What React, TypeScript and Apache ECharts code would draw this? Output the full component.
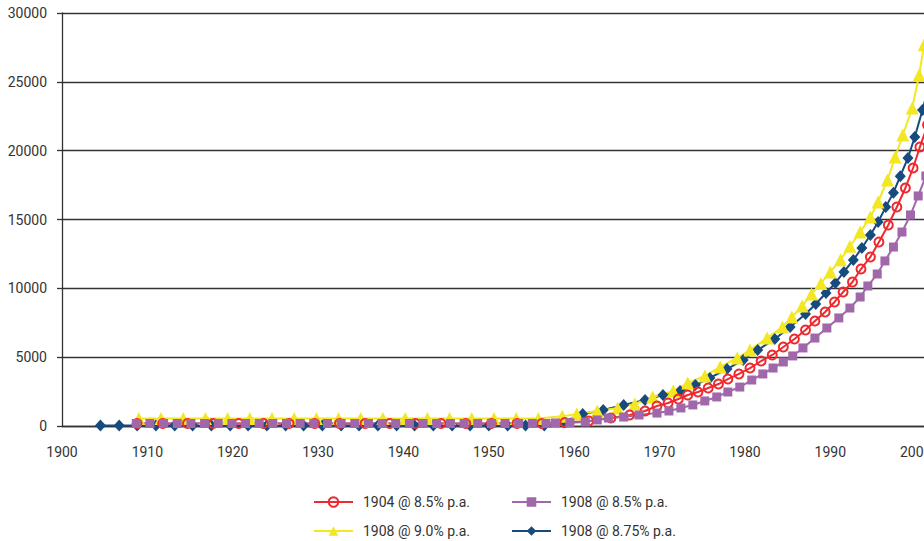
import React, { useEffect, useRef } from "react";
import * as echarts from "echarts";

const seriesNames = ["1904 @ 8.5% p.a.", "1908 @ 8.5% p.a.", "1908 @ 9.0% p.a.", "1908 @ 8.75% p.a."];

const yTicks = [0, 5000, 10000, 15000, 20000, 25000, 30000];
const xTicks = [1900, 1910, 1920, 1930, 1940, 1950, 1960, 1970, 1980, 1990, 2000];

// 1904 @ 8.5% p.a. (red circles)
const redYears = [1908.8, 1911.8, 1914.7, 1917.7, 1920.7, 1923.6, 1926.6, 1929.6, 1932.5, 1935.5, 1938.4, 1941.4, 1944.4, 1947.3, 1950.3, 1953.3, 1956.2,
  1958.9, 1961.7, 1964.3, 1966.5, 1968.3, 1969.7, 1971.0, 1972.2, 1973.3, 1974.5, 1975.7, 1976.9, 1978.0, 1979.3, 1980.6, 1981.9, 1983.2, 1984.5,
  1985.8, 1987.1, 1988.2, 1989.4, 1990.5, 1991.5, 1992.6, 1993.6, 1994.7, 1995.7, 1996.8, 1997.8, 1998.8, 1999.7, 2000.5, 2001.4];
const redValues = [180, 180, 180, 180, 180, 180, 180, 180, 180, 180, 180, 180, 180, 180, 180, 180, 180,
  250, 360, 580, 800, 1090, 1450, 1670, 1960, 2250, 2470, 2760, 3050, 3410, 3780, 4210, 4720, 5160, 5740,
  6320, 6970, 7630, 8280, 9010, 9730, 10460, 11400, 12280, 13370, 14600, 15910, 17290, 18740, 20270, 21860];

// 1908 @ 8.5% p.a. (purple squares)
const purpleYears = [1908.7, 1910.3, 1911.9, 1913.5, 1915.1, 1916.7, 1918.3, 1919.9, 1921.5, 1923.1, 1924.7, 1926.3, 1927.9, 1929.5, 1931.1, 1932.7,
  1934.3, 1935.9, 1937.5, 1939.1, 1940.7, 1942.3, 1943.9, 1945.5, 1947.1, 1948.7, 1950.3, 1951.9, 1953.5, 1955.1, 1956.7,
  1957.8, 1959.5, 1961.3, 1962.7, 1964.0, 1965.8, 1967.6, 1969.7, 1971.1, 1972.5, 1973.9, 1975.3, 1976.7, 1978.0, 1979.4, 1980.8, 1982.1,
  1983.3, 1984.5, 1985.6, 1986.8, 1988.2, 1989.6, 1991.0, 1992.3, 1993.5, 1994.4, 1995.5, 1996.4, 1997.4, 1998.4, 1999.4, 2000.3, 2001.2];
const purpleValues = [180, 180, 180, 180, 180, 180, 180, 180, 180, 180, 180, 180, 180, 180, 180, 180,
  180, 180, 180, 180, 180, 180, 180, 180, 180, 180, 180, 180, 180, 180, 180,
  220, 240, 290, 440, 580, 650, 800, 940, 1090, 1310, 1530, 1820, 2110, 2470, 2830, 3340, 3780,
  4210, 4650, 5090, 5670, 6390, 7120, 7850, 8570, 9370, 10170, 11040, 11990, 13000, 14090, 15330, 16710, 18160];

// 1908 @ 9.0% p.a. (yellow triangles)
const yellowYears = [1909.0, 1911.6, 1914.2, 1916.8, 1919.4, 1922.0, 1924.6, 1927.2, 1929.8, 1932.4, 1935.0, 1937.6, 1940.2, 1942.8, 1945.4, 1948.0, 1950.6, 1953.2, 1955.8,
  1958.6, 1960.3, 1962.7, 1965.1, 1967.1, 1969.2, 1971.6, 1973.3, 1975.3, 1977.1, 1979.1, 1980.6, 1982.6, 1984.4, 1985.5,
  1986.7, 1987.8, 1988.9, 1990.0, 1991.2, 1992.3, 1993.5, 1994.7, 1995.6, 1996.7, 1997.6, 1998.5, 1999.6, 2000.4, 2001.0];
const yellowValues = [540, 540, 540, 540, 540, 540, 540, 540, 540, 540, 540, 540, 540, 540, 540, 540, 540, 540, 540,
  700, 870, 1090, 1310, 1600, 2110, 2540, 3120, 3630, 4290, 4940, 5520, 6390, 7190, 7910,
  8710, 9590, 10360, 11190, 12080, 13050, 14090, 15180, 16270, 17870, 19540, 21140, 23100, 25500, 27700];

// 1908 @ 8.75% p.a. (blue diamonds)
const blueYears = [1904.5, 1906.7, 1908.8, 1911.0, 1913.2, 1915.3, 1917.5, 1919.7, 1921.8, 1924.0, 1926.2, 1928.3, 1930.5, 1932.7, 1934.8, 1937.0,
  1939.2, 1941.3, 1943.5, 1945.7, 1947.8, 1950.0, 1952.2, 1954.3, 1956.5,
  1958.7, 1961.0, 1963.4, 1965.8, 1968.3, 1970.4, 1972.4, 1974.2, 1975.9, 1977.9, 1979.8, 1981.5, 1983.5, 1985.3, 1987.1,
  1988.3, 1989.5, 1990.6, 1991.6, 1992.7, 1993.7, 1994.7, 1995.6, 1996.5, 1997.4, 1998.2, 1999.1, 1999.9, 2000.8, 2001.6];
const blueValues = [30, 30, 30, 30, 30, 30, 30, 30, 30, 30, 30, 30, 30, 30, 30, 30,
  30, 30, 30, 30, 30, 30, 30, 30, 30,
  290, 870, 1160, 1530, 1890, 2250, 2540, 2980, 3490, 4140, 4800, 5520, 6320, 7190, 8140,
  8860, 9660, 10390, 11190, 12060, 12930, 13870, 14820, 15900, 16950, 18150, 19470, 20990, 22950, 24800];

const RED = "#ee2a2e";
const PURPLE = "#a167ab";
const YELLOW = "#f3e622";
const BLUE = "#174b7e";
const AXIS = "#333333";
const FONT = "Roboto";

function pairs(xs: number[], ys: number[]) {
  return xs.map((x, i) => [x, ys[i]]);
}

export default function App() {
  const ref = useRef<HTMLDivElement>(null);
  useEffect(() => {
    document.body.style.margin = "0";
    const chart = echarts.init(ref.current!, null, { renderer: "svg" });
    const legendCommon = {
      orient: "horizontal",
      padding: 0,
      itemWidth: 39,
      itemHeight: 12,
      textStyle: { color: AXIS, fontSize: 14, fontFamily: FONT, padding: [0, 0, 0, 5] },
    };
    const lineBase = {
      type: "line",
      showAllSymbol: true,
      clip: true,
    };
    chart.setOption({
      animation: false,
      backgroundColor: "#ffffff",
      // the plot runs on past the right edge of the picture (cropped at ~2001)
      grid: { left: 62, right: -77, top: 13, bottom: 115, containLabel: false, outerBoundsMode: "none" },
      xAxis: {
        type: "value",
        min: 1900,
        max: 2010,
        interval: 10,
        axisLine: { show: true, onZero: true, lineStyle: { color: AXIS, width: 1.3 } },
        axisTick: { show: false },
        splitLine: { show: false },
        axisLabel: {
          color: AXIS,
          fontSize: 14,
          fontFamily: FONT,
          margin: 19,
          formatter: (v: number) => (xTicks.indexOf(v) >= 0 ? String(v) : ""),
        },
      },
      yAxis: {
        type: "value",
        min: yTicks[0],
        max: yTicks[yTicks.length - 1],
        interval: 5000,
        axisLine: { show: true, lineStyle: { color: AXIS, width: 1.3 } },
        axisTick: { show: true, length: 5, lineStyle: { color: AXIS, width: 1.3 } },
        splitLine: { show: true, lineStyle: { color: AXIS, width: 1.3 } },
        axisLabel: {
          color: AXIS,
          fontSize: 14,
          fontFamily: FONT,
          margin: 15,
          formatter: (v: number) => String(v),
        },
      },
      legend: [
        { ...legendCommon, left: 313, top: 495, data: [seriesNames[0]] },
        { ...legendCommon, left: 511, top: 495, data: [seriesNames[1]] },
        { ...legendCommon, left: 313, top: 524, data: [seriesNames[2]] },
        { ...legendCommon, left: 511, top: 524, data: [seriesNames[3]] },
      ],
      series: [
        {
          ...lineBase,
          name: seriesNames[3],
          data: pairs(blueYears, blueValues),
          symbol: "diamond",
          symbolSize: [11, 12],
          lineStyle: { color: BLUE, width: 2 },
          itemStyle: { color: BLUE },
        },
        {
          ...lineBase,
          name: seriesNames[2],
          data: pairs(yellowYears, yellowValues),
          symbol: "triangle",
          symbolSize: 13,
          lineStyle: { color: YELLOW, width: 2 },
          itemStyle: { color: YELLOW },
        },
        {
          ...lineBase,
          name: seriesNames[0],
          data: pairs(redYears, redValues),
          symbol: "circle",
          symbolSize: 9,
          lineStyle: { color: RED, width: 2 },
          itemStyle: { color: "rgba(255,255,255,0)", borderColor: RED, borderWidth: 2 },
        },
        {
          ...lineBase,
          name: seriesNames[1],
          data: pairs(purpleYears, purpleValues),
          symbol: "rect",
          symbolSize: 9,
          lineStyle: { color: PURPLE, width: 2 },
          itemStyle: { color: PURPLE },
        },
      ],
    });
    return () => chart.dispose();
  }, []);
  return (
    <div
      ref={ref}
      style={{ position: "absolute", left: 0, top: 0, width: 924, height: 541, background: "#fff", overflow: "hidden" }}
    />
  );
}
